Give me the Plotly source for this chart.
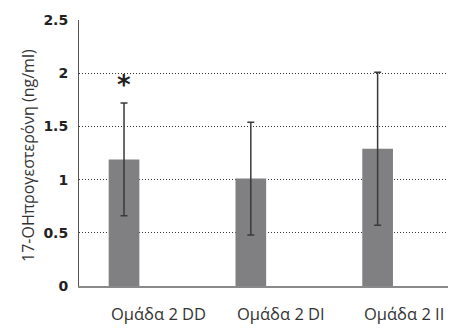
import plotly.graph_objects as go

# Group labels, mean values and error half-widths
groups = ["Ομάδα 2 DD", "Ομάδα 2 DI", "Ομάδα 2 II"]
means = [1.19, 1.01, 1.29]
errors = [0.53, 0.53, 0.72]
y_ticks = [0, 0.5, 1, 1.5, 2, 2.5]
y_tick_text = ["0", "0.5", "1", "1.5", "2", "2.5"]
y_title = "17-OHπρογεστερόνη (ng/ml)"
star_group = "Ομάδα 2 DD"
star_y = 1.89

BAR_W = 0.242

fig = go.Figure()
fig.add_trace(go.Bar(
    x=groups,
    y=means,
    width=BAR_W,
    marker=dict(color="#808083", line=dict(width=0)),
    error_y=dict(type="data", array=errors, visible=True,
                 color="#3a3a3a", thickness=1.5, width=3.5),
))

# significance marker
fig.add_annotation(x=star_group, y=star_y, text="<b>*</b>", showarrow=False,
                   font=dict(size=26, color="#222222", family="DejaVu Sans"),
                   yanchor="middle")

# group labels, left-aligned with each bar's left edge
for i, g in enumerate(groups):
    fig.add_annotation(x=i - BAR_W / 2, y=0, xref="x", yref="paper", text=g,
                       showarrow=False, xanchor="left", yanchor="top",
                       yshift=-14, font=dict(size=16.5, color="#333333",
                                             family="Open Sans"))

# y-axis title
fig.add_annotation(x=-0.14, y=0.49, xref="paper", yref="paper", text=y_title,
                   showarrow=False, textangle=-90, xanchor="center",
                   yanchor="middle",
                   font=dict(size=16, color="#333333", family="Open Sans"))

fig.update_layout(
    width=472, height=329,
    margin=dict(l=79, r=24, t=14, b=43),
    plot_bgcolor="white", paper_bgcolor="white",
    showlegend=False,
    font=dict(family="Open Sans", color="#333333"),
)
fig.update_xaxes(
    range=[-0.355, 2.555],
    showline=True, linecolor="#8a8a8a", linewidth=2,
    ticks="", showticklabels=False,
    showgrid=False,
)
fig.update_yaxes(
    range=[0, 2.5],
    tickvals=y_ticks, ticktext=y_tick_text,
    tickfont=dict(size=14, color="#222222", family="DejaVu Sans", weight="bold"),
    showline=True, linecolor="#555555", linewidth=1,
    showgrid=True, gridcolor="#333333", griddash="1px,2px", gridwidth=1,
    zeroline=False, ticks="", ticklabelstandoff=7,
)

fig.write_html("out.html")
